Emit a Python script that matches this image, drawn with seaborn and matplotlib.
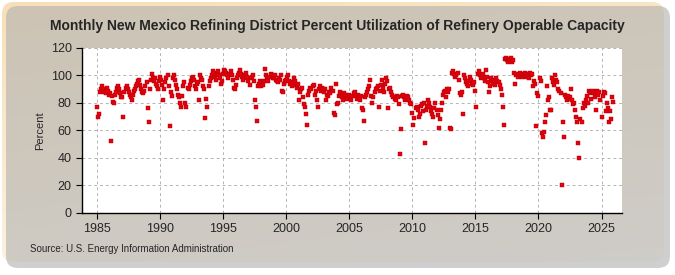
import numpy as np
import pandas as pd
import matplotlib.pyplot as plt
import seaborn as sns
from matplotlib.patches import FancyBboxPatch

# monthly values (Jan..Dec)
util_1985_1989 = [77, 70, 72, 88, 90, 92, 90, 88, 87, 91, 89, 86,
                  87, 52, 85, 81, 80, 86, 88, 91, 92, 90, 87, 84,
                  84, 70, 88, 91, 92, 90, 88, 86, 84, 82, 86, 89,
                  90, 92, 94, 96, 97, 93, 90, 88, 87, 89, 92, 95,
                  76, 66, 90, 97, 101, 98, 96, 98, 94, 92, 90, 96]
util_1990_1994 = [99, 97, 93, 82, 90, 95, 98, 100, 92, 63, 88, 85,
                  98, 100, 97, 93, 90, 86, 84, 80, 77, 85, 92, 95,
                  80, 77, 91, 90, 93, 96, 98, 99, 97, 92, 90, 94,
                  95, 82, 100, 98, 97, 92, 90, 69, 83, 77, 92, 96,
                  98, 100, 103, 102, 99, 97, 101, 103, 100, 98, 94, 96]
util_1995_1999 = [101, 104, 103, 102, 100, 98, 101, 103, 100, 97, 91, 90,
                  93, 98, 100, 102, 104, 101, 99, 97, 98, 100, 102, 99,
                  96, 93, 98, 99, 100, 96, 82, 77, 67, 92, 94, 96,
                  92, 95, 93, 96, 105, 100, 98, 96, 99, 101, 100, 98,
                  98, 100, 97, 96, 95, 98, 97, 100, 89, 88, 94, 96]
util_2000_2004 = [97, 99, 100, 96, 94, 92, 95, 98, 96, 93, 91, 94,
                  82, 88, 90, 91, 84, 79, 77, 72, 64, 86, 89, 91,
                  90, 92, 93, 86, 89, 82, 77, 90, 92, 89, 91, 90,
                  88, 90, 82, 86, 85, 88, 87, 91, 89, 73, 71, 94,
                  79, 80, 85, 88, 86, 84, 82, 87, 85, 86, 83, 85]
util_2005_2009 = [86, 84, 82, 85, 87, 88, 85, 83, 86, 84, 82, 85,
                  76, 75, 67, 84, 86, 88, 90, 92, 97, 85, 80, 84,
                  88, 90, 91, 92, 77, 89, 93, 97, 91, 88, 94, 98,
                  96, 76, 90, 91, 88, 86, 84, 83, 82, 85, 84, 79,
                  43, 61, 85, 86, 84, 82, 83, 85, 84, 82, 80, 79]
util_2010_2014 = [73, 64, 69, 76, 77, 75, 70, 72, 78, 79, 74, 80,
                  51, 75, 78, 82, 80, 77, 74, 72, 70, 76, 80, 75,
                  71, 62, 68, 75, 80, 86, 88, 89, 84, 90, 88, 90,
                  62, 61, 102, 103, 101, 99, 100, 102, 97, 87, 86, 88,
                  72, 100, 98, 95, 94, 92, 96, 99, 97, 94, 93, 95]
util_2015_2019 = [89, 77, 101, 103, 100, 98, 99, 101, 98, 96, 104, 99,
                  95, 88, 92, 98, 96, 94, 97, 93, 98, 96, 95, 93,
                  90, 86, 77, 64, 112, 113, 111, 110, 112, 111, 113, 110,
                  111, 102, 94, 100, 101, 99, 102, 100, 99, 101, 100, 102,
                  99, 101, 100, 98, 102, 100, 101, 92, 96, 94, 63, 87]
util_2020_2025 = [85, 98, 96, 58, 55, 59, 66, 71, 92, 82, 84, 75,
                  75, 98, 95, 93, 100, 97, 95, 90, 89, 87, 20, 66,
                  55, 86, 84, 82, 85, 83, 84, 90, 82, 79, 80, 75,
                  70, 66, 51, 40, 68, 66, 76, 80, 78, 82, 85, 80,
                  89, 87, 83, 88, 89, 87, 84, 75, 89, 86, 88, 82,
                  70, 85, 88, 87, 74, 80, 76, 66, 74, 68, 84, 81]

x_ticks = [1985, 1990, 1995, 2000, 2005, 2010, 2015, 2020, 2025]
y_ticks = [0, 20, 40, 60, 80, 100, 120]

values = (util_1985_1989 + util_1990_1994 + util_1995_1999 + util_2000_2004
          + util_2005_2009 + util_2010_2014 + util_2015_2019 + util_2020_2025)
n = len(values)
df = pd.DataFrame({
    'year': 1985 + np.arange(n) / 12.0,
    'percent': values,
})

sns.set_style('whitegrid')
plt.rcParams['font.family'] = ['Liberation Sans Narrow', 'Liberation Sans', 'DejaVu Sans']

fig = plt.figure(figsize=(6.75, 2.75), dpi=100)
fig.patch.set_facecolor('white')

# beige rounded background with a soft shadow
bg = fig.add_axes([0, 0, 1, 1], zorder=-10)
bg.set_xlim(0, 675)
bg.set_ylim(275, 0)
bg.axis('off')
shadow = FancyBboxPatch((6, 6), 664, 262, boxstyle='round,pad=0,rounding_size=12',
                        fc='#b0b0b0', ec='none', alpha=0.6)
bg.add_patch(shadow)
box = FancyBboxPatch((2, 2), 662, 260, boxstyle='round,pad=0,rounding_size=12',
                     fc='none', ec='none')
bg.add_patch(box)
gx, gy = np.meshgrid(np.linspace(0, 1, 200), np.linspace(0, 1, 100))
grad = np.clip(gy * 0.75 + gx * 0.25, 0, 1)
c0 = np.array([247, 224, 185]) / 255
c1 = np.array([253, 247, 236]) / 255
img = c0[None, None, :] * (1 - grad[..., None]) + c1[None, None, :] * grad[..., None]
im = bg.imshow(img, extent=[2, 664, 262, 2], aspect='auto')
im.set_clip_path(box)

ax = fig.add_axes([0.1215, 0.2255, 0.7995, 0.6])
ax.set_facecolor('white')
sns.scatterplot(data=df, x='year', y='percent', ax=ax, marker='s', s=10,
                color='#e3000f', edgecolor='#b00000', linewidth=0.3, zorder=3)

ax.set_xlim(1983.8, 2026.6)
ax.set_ylim(0, 120)
ax.set_xticks(x_ticks)
ax.set_yticks(y_ticks)
ax.tick_params(axis='both', labelsize=9, length=4, color='black', direction='out',
               bottom=True, left=True)
ax.grid(True, color='#b4b4b4', linestyle=(0, (3, 3)), linewidth=0.7)
for side in ['top', 'right']:
    ax.spines[side].set_visible(False)
for side in ['left', 'bottom']:
    ax.spines[side].set_color('black')
    ax.spines[side].set_linewidth(1)
ax.set_xlabel('')
ax.set_ylabel('Percent', fontsize=8)
ax.yaxis.set_label_coords(-0.068, 0.5)

fig.text(0.5, 0.905, 'Monthly New Mexico Refining District Percent Utilization of Refinery Operable Capacity',
         ha='center', va='center', fontsize=10, fontweight='bold')
fig.text(0.044, 0.093, 'Source: U.S. Energy Information Administration', ha='left', va='center', fontsize=7)

fig.savefig('out.png', dpi=100)
